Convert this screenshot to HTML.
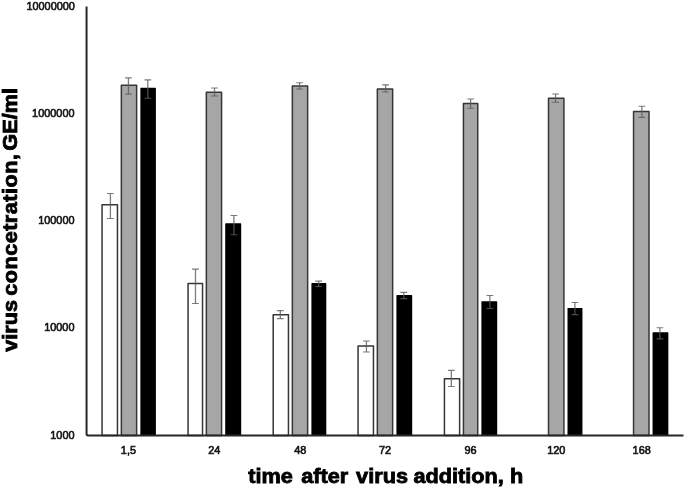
<!DOCTYPE html>
<html lang="en"><head><meta charset="utf-8"><title>virus concentration chart</title>
<style>html,body{margin:0;padding:0;background:#fff}svg{display:block;will-change:transform}</style></head>
<body>
<svg width="685" height="489" viewBox="0 0 685 489">
<rect width="685" height="489" fill="#fff"/>
<g id="bars">
<rect x="102.07" y="204.75" width="15.39" height="230.65" fill="#fff" stroke="#363636" stroke-width="1.5" stroke-linejoin="round"/>
<rect x="121.35" y="85.15" width="15.29" height="350.25" fill="#a6a6a6" stroke="#363636" stroke-width="1.5" stroke-linejoin="round"/>
<rect x="140.35" y="87.80" width="15.55" height="347.60" fill="#000" rx="0.6"/>
<rect x="188.07" y="283.40" width="14.48" height="152.00" fill="#fff" stroke="#363636" stroke-width="1.5" stroke-linejoin="round"/>
<rect x="206.35" y="92.25" width="15.21" height="343.15" fill="#a6a6a6" stroke="#363636" stroke-width="1.5" stroke-linejoin="round"/>
<rect x="225.20" y="223.30" width="16.00" height="212.10" fill="#000" rx="0.6"/>
<rect x="273.20" y="314.65" width="15.25" height="120.75" fill="#fff" stroke="#363636" stroke-width="1.5" stroke-linejoin="round"/>
<rect x="292.35" y="86.05" width="15.29" height="349.35" fill="#a6a6a6" stroke="#363636" stroke-width="1.5" stroke-linejoin="round"/>
<rect x="311.40" y="283.05" width="14.90" height="152.35" fill="#000" rx="0.6"/>
<rect x="358.07" y="346.05" width="15.39" height="89.35" fill="#fff" stroke="#363636" stroke-width="1.5" stroke-linejoin="round"/>
<rect x="377.35" y="89.10" width="15.29" height="346.30" fill="#a6a6a6" stroke="#363636" stroke-width="1.5" stroke-linejoin="round"/>
<rect x="396.40" y="295.05" width="15.80" height="140.35" fill="#000" rx="0.6"/>
<rect x="444.43" y="378.65" width="15.20" height="56.75" fill="#fff" stroke="#363636" stroke-width="1.5" stroke-linejoin="round"/>
<rect x="463.43" y="103.50" width="14.30" height="331.90" fill="#a6a6a6" stroke="#363636" stroke-width="1.5" stroke-linejoin="round"/>
<rect x="481.40" y="301.20" width="15.80" height="134.20" fill="#000" rx="0.6"/>
<rect x="548.50" y="98.25" width="15.40" height="337.15" fill="#a6a6a6" stroke="#363636" stroke-width="1.5" stroke-linejoin="round"/>
<rect x="567.50" y="308.00" width="14.95" height="127.40" fill="#000" rx="0.6"/>
<rect x="633.55" y="111.50" width="15.45" height="323.90" fill="#a6a6a6" stroke="#363636" stroke-width="1.5" stroke-linejoin="round"/>
<rect x="652.55" y="332.30" width="15.80" height="103.10" fill="#000" rx="0.6"/>
</g>
<path d="M86.55 6.4V433.79999999999995Q86.55 435.4 88.14999999999999 435.4H683.5" fill="none" stroke="#262626" stroke-width="2" stroke-linejoin="round"/>
<g id="errorbars" fill="none" stroke="#5c5c5c" stroke-opacity="0.8">
<path d="M110.40 193.45V218.50" stroke-width="1.3"/><path d="M107.00 193.45H113.80M107.00 218.50H113.80" stroke-width="1.1"/>
<path d="M128.44 77.90V94.10" stroke-width="1.3"/><path d="M125.04 77.90H131.84M125.04 94.10H131.84" stroke-width="1.1"/>
<path d="M147.80 79.90V98.20" stroke-width="1.3"/><path d="M144.40 79.90H151.20M144.40 98.20H151.20" stroke-width="1.1"/>
<path d="M195.48 269.10V303.50" stroke-width="1.3"/><path d="M192.08 269.10H198.88M192.08 303.50H198.88" stroke-width="1.1"/>
<path d="M214.53 87.95V96.00" stroke-width="1.3"/><path d="M211.13 87.95H217.93M211.13 96.00H217.93" stroke-width="1.1"/>
<path d="M233.92 215.45V234.70" stroke-width="1.3"/><path d="M230.52 215.45H237.32M230.52 234.70H237.32" stroke-width="1.1"/>
<path d="M280.31 310.60V318.60" stroke-width="1.3"/><path d="M276.91 310.60H283.71M276.91 318.60H283.71" stroke-width="1.1"/>
<path d="M299.57 82.75V89.05" stroke-width="1.3"/><path d="M296.17 82.75H302.97M296.17 89.05H302.97" stroke-width="1.1"/>
<path d="M318.71 281.15V286.50" stroke-width="1.3"/><path d="M315.31 281.15H322.11M315.31 286.50H322.11" stroke-width="1.1"/>
<path d="M366.43 341.00V352.00" stroke-width="1.3"/><path d="M363.03 341.00H369.83M363.03 352.00H369.83" stroke-width="1.1"/>
<path d="M385.60 84.85V92.05" stroke-width="1.3"/><path d="M382.20 84.85H389.00M382.20 92.05H389.00" stroke-width="1.1"/>
<path d="M403.74 292.40V298.60" stroke-width="1.3"/><path d="M400.34 292.40H407.14M400.34 298.60H407.14" stroke-width="1.1"/>
<path d="M451.34 370.40V386.50" stroke-width="1.3"/><path d="M447.94 370.40H454.74M447.94 386.50H454.74" stroke-width="1.1"/>
<path d="M470.60 99.05V108.30" stroke-width="1.3"/><path d="M467.20 99.05H474.00M467.20 108.30H474.00" stroke-width="1.1"/>
<path d="M489.89 295.45V308.50" stroke-width="1.3"/><path d="M486.49 295.45H493.29M486.49 308.50H493.29" stroke-width="1.1"/>
<path d="M555.60 94.00V102.30" stroke-width="1.3"/><path d="M552.20 94.00H559.00M552.20 102.30H559.00" stroke-width="1.1"/>
<path d="M574.89 302.45V314.60" stroke-width="1.3"/><path d="M571.49 302.45H578.29M571.49 314.60H578.29" stroke-width="1.1"/>
<path d="M641.86 106.20V117.35" stroke-width="1.3"/><path d="M638.46 106.20H645.26M638.46 117.35H645.26" stroke-width="1.1"/>
<path d="M659.89 327.75V338.90" stroke-width="1.3"/><path d="M656.49 327.75H663.29M656.49 338.90H663.29" stroke-width="1.1"/>
</g>
<g id="yticks" font-family="Liberation Sans, Arial, sans-serif" font-size="10.9" fill="#141414" stroke="#141414" stroke-width="0.62" text-anchor="end">
<text x="74.9" y="9.70">10000000</text>
<text x="74.5" y="116.63">1000000</text>
<text x="74.5" y="223.95">100000</text>
<text x="74.5" y="331.27">10000</text>
<text x="74.5" y="438.60">1000</text>
</g>
<g id="xticks" font-family="Liberation Sans, Arial, sans-serif" font-size="10.9" fill="#141414" stroke="#141414" stroke-width="0.62" text-anchor="middle">
<text x="128.40" y="454.2">1,5</text>
<text x="214.23" y="454.2">24</text>
<text x="300.36" y="454.2">48</text>
<text x="385.09" y="454.2">72</text>
<text x="470.52" y="454.2">96</text>
<text x="556.35" y="454.2">120</text>
<text x="641.68" y="454.2">168</text>
</g>
<text transform="translate(248.2 483.3) scale(1.096 1)" font-family="Liberation Sans, Arial, sans-serif" font-weight="bold" font-size="19.8" fill="#000" stroke="#000" stroke-width="0.8"><tspan x="0.00">time </tspan><tspan x="48.36">after </tspan><tspan x="98.45">virus </tspan><tspan x="150.73">addition, </tspan><tspan x="238.96">h</tspan></text>
<text transform="translate(16.9 351.8) rotate(-90) scale(1.096 1)" font-family="Liberation Sans, Arial, sans-serif" font-weight="bold" font-size="19.8" fill="#000" stroke="#000" stroke-width="0.8"><tspan x="0">virus </tspan><tspan x="51.09" letter-spacing="0.42">concetration, </tspan><tspan x="183.49">GE/ml</tspan></text>
</svg>
</body></html>
